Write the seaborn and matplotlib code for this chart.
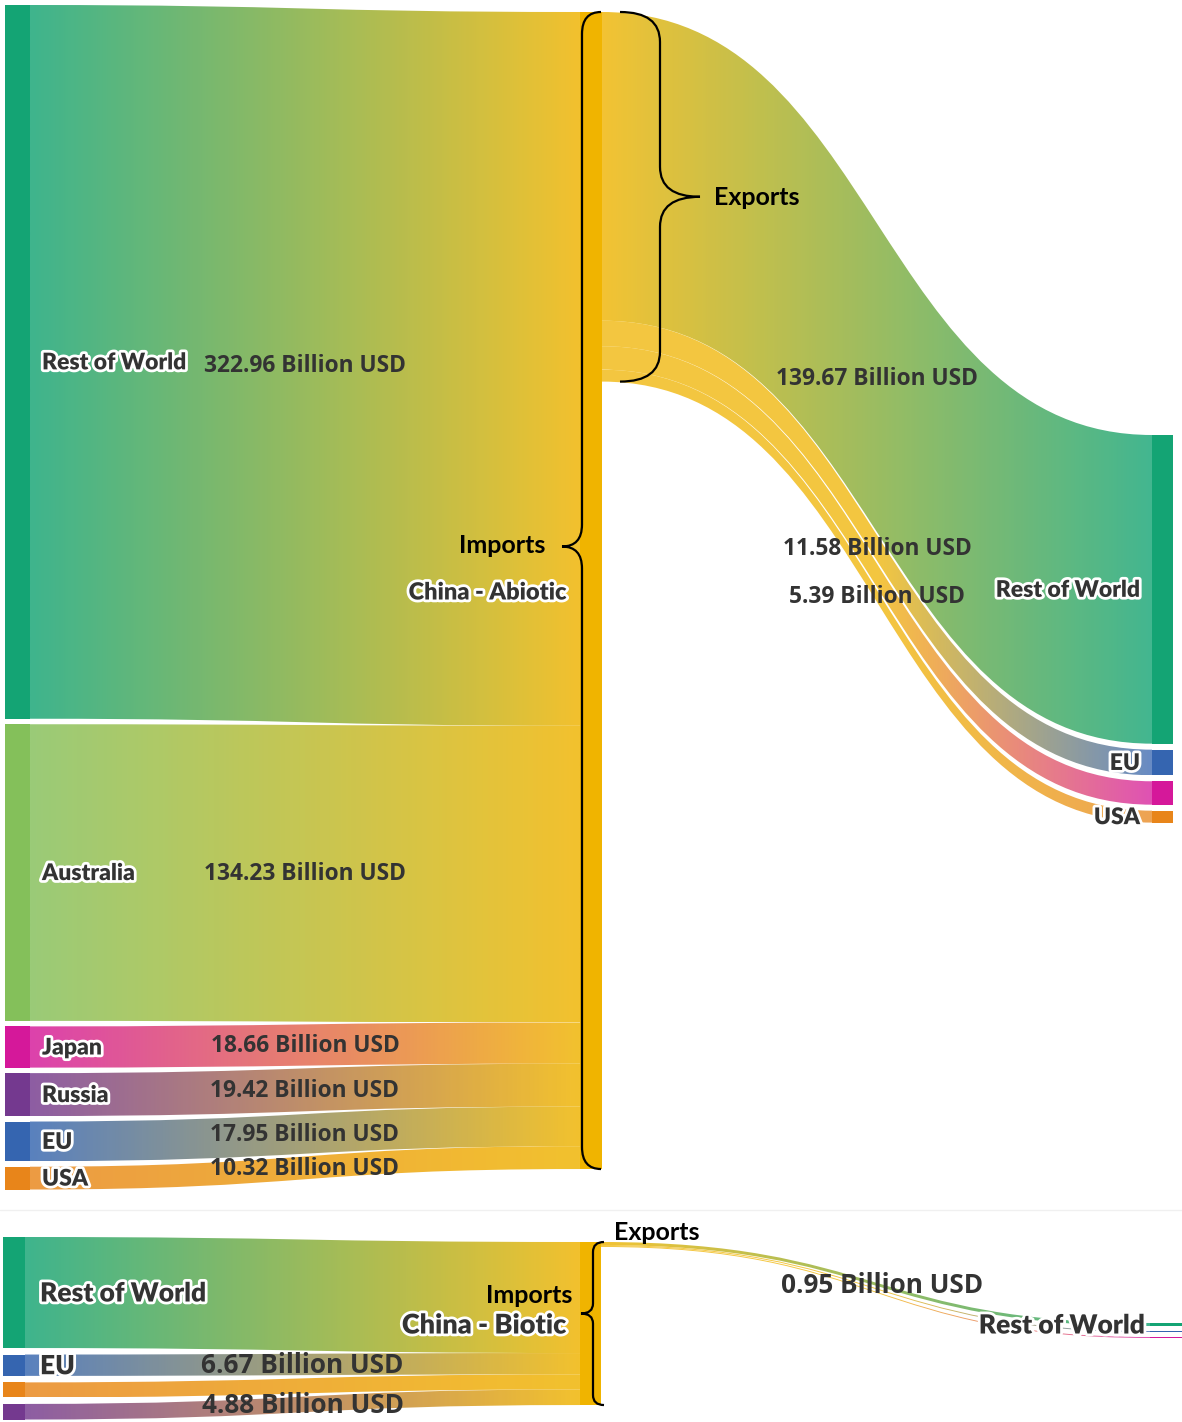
import numpy as np
import matplotlib
matplotlib.use("Agg")
import matplotlib.pyplot as plt
from matplotlib.path import Path
from matplotlib.patches import PathPatch
import matplotlib.patheffects as pe
import seaborn as sns

# ------------------------------------------------------------------ data
abiotic_sources = ["Rest of World", "Australia", "Japan", "Russia", "EU", "USA"]
abiotic_import_values = [322.96, 134.23, 18.66, 19.42, 17.95, 10.32]
abiotic_import_show_value = [True, True, True, True, True, True]
abiotic_source_labels = ["Rest of World", "Australia", "Japan", "Russia", "EU", "USA"]
abiotic_targets = ["Rest of World", "EU", "Japan", "USA"]
abiotic_export_values = [139.67, 11.58, 10.60, 5.39]
abiotic_export_show_value = [True, True, False, True]
abiotic_target_labels = ["Rest of World", "EU", "", "USA"]

biotic_sources = ["Rest of World", "EU", "USA", "Russia"]
biotic_import_values = [34.70, 6.67, 4.70, 4.88]
biotic_import_show_value = [False, True, False, True]
biotic_source_labels = ["Rest of World", "EU", "", ""]
biotic_targets = ["Rest of World", "EU", "Japan"]
biotic_export_values = [0.95, 0.30, 0.30]
biotic_export_show_value = [True, False, False]
biotic_target_labels = ["Rest of World", "", ""]

region_colors = {"Rest of World": "#14a474", "Australia": "#84c05a",
                 "Japan": "#d5189a", "Russia": "#74398f",
                 "EU": "#3565b0", "USA": "#e8851a"}
china_color = "#f0b400"

# ------------------------------------------------------------------ style
sns.set_theme(style="white")
plt.rcParams["font.family"] = ["Open Sans", "DejaVu Sans"]

W, H = 1182, 1422
fig = plt.figure(figsize=(W / 100, H / 100), dpi=100)
ax = fig.add_axes([0, 0, 1, 1])

VAL_COLOR = "#333333"
halo = [pe.withStroke(linewidth=4, foreground="white")]


def value_text(v):
    return f"{v:.2f} Billion USD"


def draw_flow(x0, x1, y0a, y0b, y1a, y1b, stops, alpha=0.82, z=2):
    xm = (x0 + x1) / 2
    verts = [(x0, y0a), (xm, y0a), (xm, y1a), (x1, y1a),
             (x1, y1b), (xm, y1b), (xm, y0b), (x0, y0b), (x0, y0a)]
    codes = [Path.MOVETO, Path.CURVE4, Path.CURVE4, Path.CURVE4,
             Path.LINETO, Path.CURVE4, Path.CURVE4, Path.CURVE4, Path.CLOSEPOLY]
    patch = PathPatch(Path(verts, codes), facecolor="none", edgecolor="none")
    ax.add_patch(patch)
    pal = np.array(sns.blend_palette(stops, n_colors=256))[None, :, :3]
    im = ax.imshow(pal, extent=[x0, x1, max(y0b, y1b), min(y0a, y1a)],
                   aspect="auto", alpha=alpha, interpolation="bilinear", zorder=z)
    im.set_clip_path(patch)


def draw_brace(x_end, x_spine, x_tip, y0, y1, ytip, r, lw=1.6):
    verts = [(x_end, y0), (x_spine, y0), (x_spine, y0 + r),
             (x_spine, ytip - r), (x_spine, ytip), (x_tip, ytip),
             (x_spine, ytip), (x_spine, ytip + r),
             (x_spine, y1 - r), (x_spine, y1), (x_end, y1)]
    codes = [Path.MOVETO, Path.CURVE3, Path.CURVE3,
             Path.LINETO, Path.CURVE3, Path.CURVE3,
             Path.CURVE3, Path.CURVE3,
             Path.LINETO, Path.CURVE3, Path.CURVE3]
    ax.add_patch(PathPatch(Path(verts, codes), facecolor="none",
                           edgecolor="black", lw=lw, zorder=6))


def stack(values, top, gap, scale):
    pos, y = [], top
    for v in values:
        h = v * scale
        pos.append((y, y + h))
        y += h + gap
    return pos


def draw_panel(sources, imp_vals, imp_show, src_labels,
               targets, exp_vals, exp_show, tgt_labels, L):
    s = L["scale"]
    left = stack(imp_vals, L["left_top"], L["left_gap"], s)
    china_in = stack(imp_vals, L["china_top"], 0, s)
    china_out = stack(exp_vals, L["china_top"], 0, s)
    right = stack(exp_vals, L["right_top"], L["right_gap"], s)
    china_span = (china_in[0][0], china_in[-1][1])

    # import flows
    for name, (a, b), (c, d) in zip(sources, left, china_in):
        draw_flow(L["lx1"], L["cx0"], a, b, c, d, [region_colors[name], china_color])
    # export flows (largest drawn linearly, small ones keep the yellow longer)
    for i, (name, (a, b), (c, d)) in enumerate(zip(targets, china_out, right)):
        if i == 0:
            stops = [china_color, region_colors[name]]
            al = 0.8
        else:
            stops = [china_color, china_color, region_colors[name]]
            al = 0.75
        draw_flow(L["cx1"], L["rx0"], a, b, c, d, stops, alpha=al, z=3)

    # nodes
    ax.bar([(L["lx0"] + L["lx1"]) / 2] * len(left), [b - a for a, b in left],
           bottom=[a for a, b in left], width=L["lx1"] - L["lx0"],
           color=[region_colors[n] for n in sources], linewidth=0, zorder=4)
    ax.bar([(L["cx0"] + L["cx1"]) / 2], [china_span[1] - china_span[0]],
           bottom=[china_span[0]], width=L["cx1"] - L["cx0"],
           color=china_color, linewidth=0, zorder=4)
    ax.bar([(L["rx0"] + L["rx1"]) / 2] * len(right), [b - a for a, b in right],
           bottom=[a for a, b in right], width=L["rx1"] - L["rx0"],
           color=[region_colors[n] for n in targets], linewidth=0, zorder=4)

    # labels
    for lab, (a, b) in zip(src_labels, left):
        if lab:
            ax.text(L["lx1"] + L["llab_pad"], (a + b) / 2 + 1, lab, ha="left", va="center",
                    fontsize=L["name_fs"], fontweight="heavy", family=L["name_font"],
                    color=VAL_COLOR, path_effects=halo, zorder=8)
    for v, show, (a, b), (c, d) in zip(imp_vals, imp_show, left, china_in):
        if show:
            ax.text((L["lx1"] + L["cx0"]) / 2, ((a + b) / 2 + (c + d) / 2) / 2 + 1,
                    value_text(v), ha="center", va="center",
                    fontsize=L["val_fs"], fontweight="bold", family=L["val_font"],
                    color=VAL_COLOR, zorder=8)
    for v, show, (a, b), (c, d) in zip(exp_vals, exp_show, china_out, right):
        if show:
            ax.text((L["cx1"] + L["rx0"]) / 2 + L["eval_dx"],
                    ((a + b) / 2 + (c + d) / 2) / 2 + 1,
                    value_text(v), ha="center", va="center",
                    fontsize=L["val_fs"], fontweight="bold", family=L["val_font"],
                    color=VAL_COLOR, zorder=8)
    for lab, (a, b) in zip(tgt_labels, right):
        if lab:
            ax.text(L["rx0"] - L["rlab_pad"], (a + b) / 2 + 1, lab, ha="right", va="center",
                    fontsize=L["name_fs"], fontweight="heavy", family=L["name_font"],
                    color=VAL_COLOR, path_effects=halo, zorder=8)

    cmid = (china_span[0] + china_span[1]) / 2
    ax.text(L["cx0"] - 13, cmid + 2, L["china_label"], ha="right", va="center",
            fontsize=L["china_fs"], fontweight="heavy", family=L["name_font"],
            color=VAL_COLOR, path_effects=halo, zorder=8)

    # import brace
    ib = L["imp_brace"]
    ytip = cmid + ib["tip_dy"]
    draw_brace(ib["x_end"], ib["x_spine"], ib["x_tip"], china_span[0], china_span[1],
               ytip, ib["r"])
    ax.text(ib["x_tip"] - ib["lab_pad"], cmid + ib["lab_dy"], "Imports", ha="right",
            va="center", fontsize=L["brace_fs"], fontweight="bold",
            family="Lato", color="black", zorder=8)

    # exports
    out_span = (china_out[0][0], china_out[-1][1])
    eb = L["exp_brace"]
    if eb is not None:
        ytip2 = (out_span[0] + out_span[1]) / 2
        draw_brace(eb["x_end"], eb["x_spine"], eb["x_tip"], out_span[0], out_span[1],
                   ytip2, eb["r"])
        ax.text(eb["x_tip"] + 14, ytip2 + 1, "Exports", ha="left", va="center",
                fontsize=L["brace_fs"], fontweight="bold", family="Lato",
                color="black", zorder=8)
    else:
        ax.text(L["cx1"] + 13, out_span[0] - 9, "Exports", ha="left", va="center",
                fontsize=L["brace_fs"], fontweight="bold", family="Lato",
                color="black", zorder=8)


top_layout = dict(scale=2.21, left_top=5, left_gap=5.5, china_top=12,
                  right_top=435, right_gap=6,
                  lx0=5, lx1=30, cx0=580, cx1=602, rx0=1152, rx1=1173,
                  name_fs=16.5, val_fs=16.4, brace_fs=18, china_fs=17,
                  llab_pad=12, rlab_pad=12, eval_dx=0,
                  name_font="Lato", val_font="Open Sans",
                  china_label="China - Abiotic",
                  imp_brace=dict(x_end=601, x_spine=582, x_tip=562, r=22,
                                 tip_dy=-44, lab_pad=17, lab_dy=-45),
                  exp_brace=dict(x_end=620, x_spine=660, x_tip=700, r=30))

bottom_layout = dict(scale=3.2, left_top=1237, left_gap=6.5, china_top=1242,
                     right_top=1323, right_gap=5,
                     lx0=3, lx1=25, cx0=580, cx1=601, rx0=1150, rx1=1182,
                     name_fs=19, val_fs=18.8, brace_fs=18, china_fs=19.5,
                     llab_pad=15, rlab_pad=5, eval_dx=7,
                     name_font="Lato", val_font="Open Sans",
                     china_label="China - Biotic",
                     imp_brace=dict(x_end=604, x_spine=593, x_tip=581, r=10,
                                    tip_dy=-10, lab_pad=9, lab_dy=-28),
                     exp_brace=None)

draw_panel(abiotic_sources, abiotic_import_values, abiotic_import_show_value,
           abiotic_source_labels, abiotic_targets, abiotic_export_values,
           abiotic_export_show_value, abiotic_target_labels, top_layout)
draw_panel(biotic_sources, biotic_import_values, biotic_import_show_value,
           biotic_source_labels, biotic_targets, biotic_export_values,
           biotic_export_show_value, biotic_target_labels, bottom_layout)

ax.axhline(1210, color="#f0f0f0", lw=1, zorder=0)

ax.set_xlim(0, W)
ax.set_ylim(H, 0)
ax.axis("off")
fig.savefig("out.png", dpi=100, facecolor="white")
